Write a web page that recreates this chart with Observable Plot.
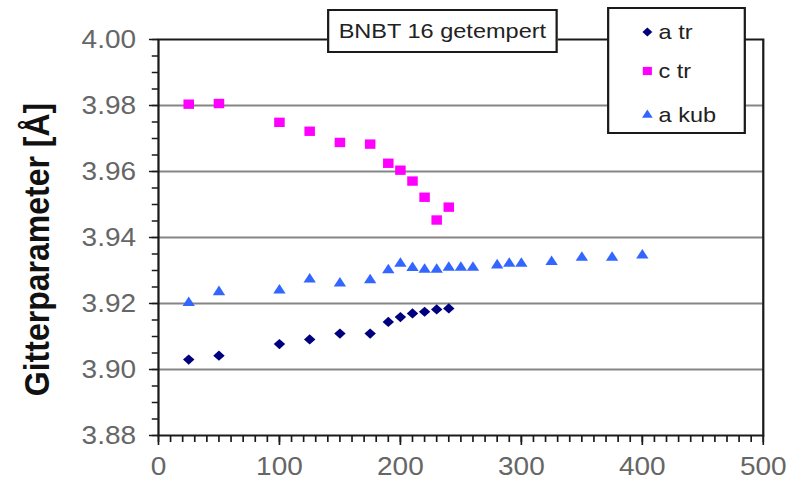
<!DOCTYPE html>
<html>
<head>
<meta charset="utf-8">
<script src="https://cdn.jsdelivr.net/npm/d3@7"></script>
<script src="https://cdn.jsdelivr.net/npm/@observablehq/plot@0.6"></script>
<style>
  html, body { margin: 0; padding: 0; background: #fff; overflow: hidden; }
  #wrap {
    position: relative; width: 714px; height: 491px;
    transform: scaleX(1.12); transform-origin: 0 0;
    font-family: "Liberation Sans", Arial, sans-serif;
  }
  #title {
    position: absolute; left: 292px; top: 9px; width: 206px; height: 44px;
    box-sizing: border-box; border: 2px solid #1a1a1a; background: #fff;
    display: flex; align-items: center; justify-content: center;
    font-size: 21px; color: #222;
  }
  #legend { position: absolute; left: 542px; top: 7px; }
</style>
</head>
<body>
<div id="wrap"><div id="title">BNBT 16 getempert</div></div>
<script>
// Temperatures (°C) for the tetragonal phase parameters
const trTemps = [25, 50, 100, 125, 150, 175, 190, 200, 210, 220, 230, 240];
const aTr = [3.9030, 3.9042, 3.9077, 3.9091, 3.9109, 3.9109, 3.9144, 3.9159, 3.9170, 3.9175, 3.9182, 3.9185];
const cTr = [3.9804, 3.9806, 3.9749, 3.9722, 3.9688, 3.9683, 3.9625, 3.9604, 3.9571, 3.9522, 3.9453, 3.9492];
// Temperatures (°C) for the cubic parameter
const kubTemps = [25, 50, 100, 125, 150, 175, 190, 200, 210, 220, 230, 240, 250, 260, 280, 290, 300, 325, 350, 375, 400];
const aKub = [3.9202, 3.9235, 3.9240, 3.9273, 3.9261, 3.9271, 3.9301, 3.9321, 3.9308, 3.9303, 3.9303, 3.9309, 3.9309, 3.9309, 3.9316, 3.9321, 3.9321, 3.9326, 3.9339, 3.9339, 3.9346];

const seriesNames = ["a tr", "c tr", "a kub"];
const seriesColors = ["#00007f", "#ff00ff", "#3366ff"];
const seriesSymbols = ["diamond2", "square", "triangle"];
const seriesRadius = [4.6, 5.3, 4.1];

const yTicks = [3.88, 3.90, 3.92, 3.94, 3.96, 3.98, 4.00];
const yMinorTicks = d3.range(0, 25).map(i => 3.88 + i * 0.005);
const gridValues = [3.90, 3.92, 3.94, 3.96, 3.98];
const xTicks = [0, 100, 200, 300, 400, 500];
const xMinorTicks = d3.range(0, 51).map(i => i * 10);

const yTitle = "Gitterparameter [Å]";

const toRows = (xs, ys) => xs.map((x, i) => ({T: x, v: ys[i]}));
const seriesData = [toRows(trTemps, aTr), toRows(trTemps, cTr), toRows(kubTemps, aKub)];

const chart = Plot.plot({
  width: 714,
  height: 491,
  marginLeft: 141,
  marginRight: 33,
  marginTop: 39,
  marginBottom: 56,
  style: {fontFamily: "Liberation Sans, Arial, sans-serif", background: "#fff", overflow: "visible"},
  x: {domain: [0, 500]},
  y: {domain: [3.88, 4.00]},
  marks: [
    Plot.ruleY(gridValues, {stroke: "#858585", strokeWidth: 2}),
    Plot.frame({stroke: "#1a1a1a", strokeWidth: 2}),
    Plot.axisY({ticks: yMinorTicks, tickSize: 5.5, tickFormat: () => "", stroke: "#1a1a1a", strokeWidth: 1.5, label: null}),
    Plot.axisY({ticks: yTicks, tickSize: 8, tickPadding: 12, tickFormat: d3.format(".2f"),
      fill: "#666", stroke: "#1a1a1a", strokeWidth: 1.5, fontSize: 25, label: null}),
    Plot.axisX({ticks: xMinorTicks, tickSize: 7, tickFormat: () => "", stroke: "#1a1a1a", strokeWidth: 1.5, label: null}),
    Plot.axisX({ticks: xTicks, tickSize: 10, tickPadding: 12, fill: "#666", stroke: "#1a1a1a",
      strokeWidth: 1.5, fontSize: 25, label: null}),
    // rotated axis title, shifted left of the frame and centred a little below mid-height
    Plot.text([yTitle], {frameAnchor: "left", textAnchor: "middle", lineAnchor: "middle",
      dx: -108, dy: 12, rotate: -90, fontWeight: "bold", fontSize: 32, fill: "#111", text: d => d}),
    ...seriesData.map((rows, i) => Plot.dot(rows, {
      x: "T", y: "v", symbol: seriesSymbols[i], fill: seriesColors[i], r: seriesRadius[i], stroke: "none"
    }))
  ]
});

const wrap = document.getElementById("wrap");
wrap.insertBefore(chart, wrap.firstChild);

// Legend box with the three series symbols
const legend = d3.select(wrap).append("svg")
  .attr("id", "legend").attr("width", 124).attr("height", 127);
legend.append("rect").attr("x", 1).attr("y", 1).attr("width", 122).attr("height", 125)
  .attr("fill", "#fff").attr("stroke", "#1a1a1a").attr("stroke-width", 2);
const symbolMap = {diamond2: d3.symbolDiamond2, square: d3.symbolSquare, triangle: d3.symbolTriangle};
const rowY = [25, 64, 108];
seriesNames.forEach((name, i) => {
  const g = legend.append("g").attr("transform", `translate(36,${rowY[i]})`);
  g.append("path")
    .attr("d", d3.symbol(symbolMap[seriesSymbols[i]], Math.PI * seriesRadius[i] ** 2 * 0.75)())
    .attr("fill", seriesColors[i]);
  g.append("text").attr("x", 10).attr("dy", "0.35em").attr("font-size", 21).attr("fill", "#222")
    .text(name);
});
</script>
</body>
</html>
